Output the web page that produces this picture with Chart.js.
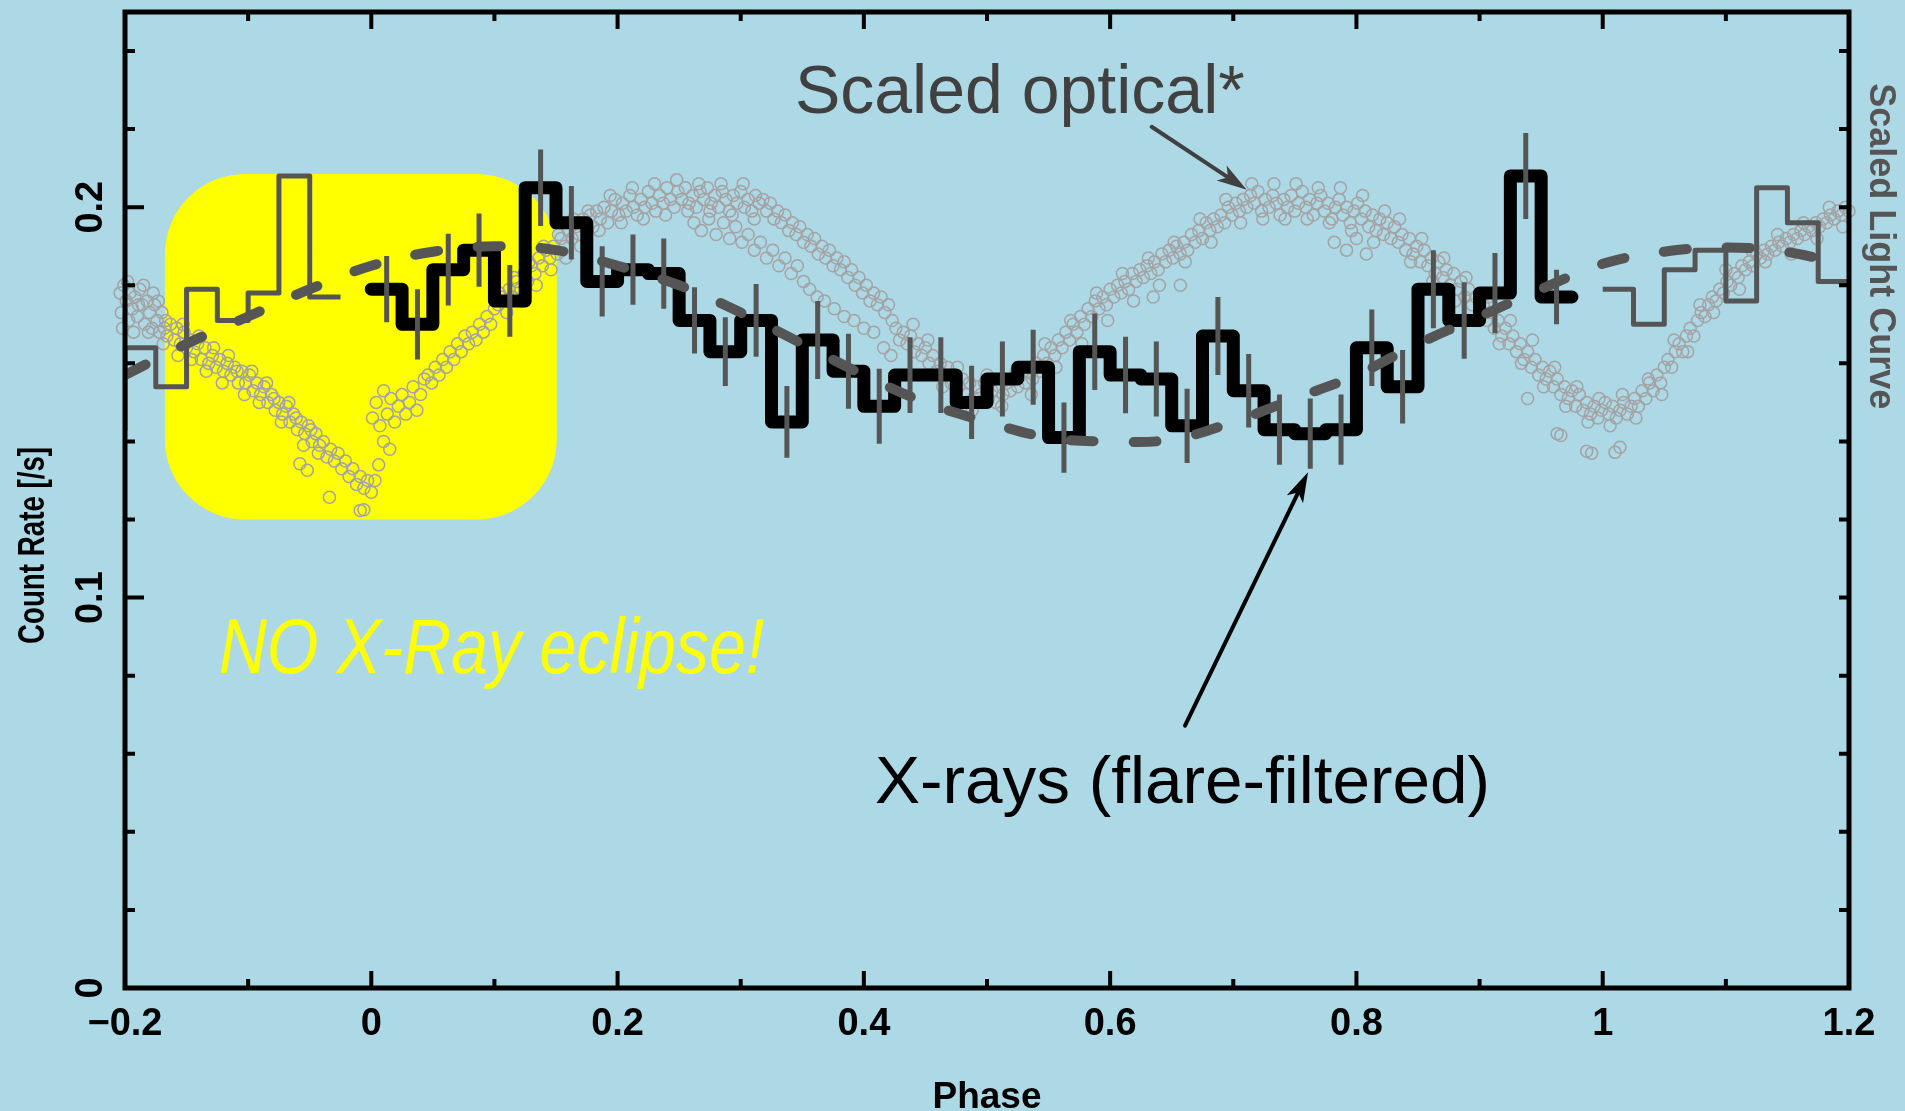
<!DOCTYPE html>
<html>
<head>
<meta charset="utf-8">
<title>Phase-folded X-ray and optical light curve</title>
<script src="https://cdn.jsdelivr.net/npm/chart.js@4.4.1/dist/chart.umd.min.js"></script>
<style>
  html, body { margin: 0; padding: 0; background: #add8e6; }
  #wrap { width: 1905px; height: 1111px; }
</style>
</head>
<body>
<div id="wrap"><canvas id="lc" width="1905" height="1111"></canvas></div>
<script>
// ---- X-ray count rate, flare-filtered, in 0.025 phase bins ----
const binWidth = 0.025;
const xrayBinStart = [0, 0.025, 0.05, 0.075, 0.1, 0.125, 0.15, 0.175, 0.2, 0.225,
  0.25, 0.275, 0.3, 0.325, 0.35, 0.375, 0.4, 0.425, 0.45, 0.475,
  0.5, 0.525, 0.55, 0.575, 0.6, 0.625, 0.65, 0.675, 0.7, 0.725,
  0.75, 0.775, 0.8, 0.825, 0.85, 0.875, 0.9, 0.925, 0.95];
const xrayRate = [0.179, 0.170, 0.184, 0.189, 0.176, 0.205, 0.196, 0.181, 0.184, 0.183,
  0.171, 0.163, 0.171, 0.145, 0.166, 0.158, 0.149, 0.157, 0.157, 0.150,
  0.156, 0.159, 0.141, 0.163, 0.157, 0.156, 0.144, 0.167, 0.153, 0.143,
  0.142, 0.143, 0.164, 0.154, 0.179, 0.171, 0.178, 0.208, 0.177];
const xrayErr = [0.0085, 0.009, 0.0092, 0.0094, 0.0092, 0.0098, 0.0094, 0.009, 0.009, 0.009,
  0.0085, 0.0088, 0.0093, 0.0092, 0.010, 0.0096, 0.0096, 0.0097, 0.0097, 0.0094,
  0.0096, 0.0096, 0.009, 0.0098, 0.0098, 0.0096, 0.0095, 0.010, 0.0094, 0.009,
  0.009, 0.009, 0.0098, 0.0094, 0.010, 0.0098, 0.0103, 0.011, 0.007];

// ---- smooth modulation curve (dashed) ----
const modelPhase = [-0.2, -0.15, -0.1, -0.05, 0, 0.05, 0.1, 0.15, 0.2, 0.25,
  0.3, 0.35, 0.4, 0.45, 0.5, 0.55, 0.6, 0.65, 0.7, 0.75,
  0.8, 0.85, 0.9, 0.95, 1.0, 1.05, 1.1, 1.15, 1.2];
const modelRate = [0.157, 0.165, 0.172, 0.179, 0.185, 0.1886, 0.190, 0.189, 0.185, 0.180,
  0.173, 0.165, 0.157, 0.150, 0.145, 0.141, 0.140, 0.1405, 0.145, 0.151,
  0.157, 0.165, 0.172, 0.179, 0.1855, 0.1886, 0.1897, 0.1885, 0.185];

// ---- scaled optical light curve ----
const optPhase = [
  -0.204,-0.203,-0.201,-0.199,-0.197,-0.196,-0.194,-0.192,-0.190,-0.188,-0.186,-0.184,-0.182,-0.180,-0.178,-0.176,-0.174,-0.172,-0.170,-0.168,-0.166,
  -0.163,-0.160,-0.158,-0.155,-0.152,-0.150,-0.147,-0.144,-0.141,-0.138,-0.135,-0.132,-0.129,-0.126,-0.123,-0.120,-0.117,-0.114,-0.111,-0.108,-0.105,-0.102,
  -0.099,-0.096,-0.093,-0.090,-0.087,-0.084,-0.081,-0.078,-0.075,-0.072,-0.069,-0.066,-0.063,-0.060,-0.057,-0.054,-0.051,-0.048,-0.045,-0.042,-0.058,-0.052,
  -0.039,-0.036,-0.033,-0.030,-0.027,-0.024,-0.021,-0.018,-0.015,-0.012,-0.009,-0.006,-0.003,0.000,0.003,-0.034,-0.009,-0.006,
  0.006,0.010,0.015,0.001,0.004,0.007,0.010,0.013,0.016,0.019,0.022,0.025,0.028,0.031,0.034,0.037,0.040,0.043,
  0.046,0.049,0.052,0.055,0.058,0.061,0.064,0.067,0.070,0.073,0.076,0.079,0.082,0.085,0.088,0.091,0.094,0.097,0.100,
  0.103,0.106,0.109,0.112,0.115,0.118,0.121,0.124,0.127,0.130,0.133,0.136,0.139,0.142,0.145,0.148,0.151,0.154,0.157,0.160,0.163,0.166,0.169,0.172,0.175,0.178,
  0.180,0.183,0.186,0.189,0.192,0.195,0.198,0.201,0.204,0.207,0.210,0.213,0.216,0.219,0.222,0.225,0.228,0.231,0.234,0.237,0.240,0.243,0.246,0.249,0.252,0.255,0.258,0.261,0.264,0.267,0.270,0.273,0.276,0.279,0.282,0.285,0.288,0.291,0.294,0.297,0.300,0.303,0.306,0.309,0.312,0.315,
  0.262,0.268,0.274,0.280,0.286,0.291,0.296,0.301,0.306,0.311,0.316,0.321,0.326,0.331,0.336,0.341,0.346,0.351,0.356,0.362,0.368,0.376,0.384,0.392,0.400,0.408,0.416,0.422,
  0.318,0.321,0.324,0.327,0.330,0.333,0.336,0.339,0.342,0.345,0.348,0.351,0.354,0.357,0.360,0.363,0.366,0.369,0.372,0.375,0.378,0.381,0.384,0.387,0.390,0.393,0.396,0.399,0.402,0.405,0.408,0.411,0.414,0.417,0.420,0.423,
  0.426,0.429,0.432,0.435,0.438,0.441,0.444,0.447,0.450,0.453,0.456,0.459,0.462,0.465,0.468,0.471,0.474,0.477,0.480,0.483,0.486,0.489,0.492,0.495,0.498,0.501,0.504,0.507,0.510,0.513,0.516,0.519,0.522,0.525,0.528,0.531,0.534,0.537,
  0.540,0.543,0.546,0.549,0.552,0.555,0.558,0.561,0.564,0.567,0.570,0.573,0.576,0.579,0.582,0.585,0.588,0.591,0.594,0.597,0.600,0.603,0.606,0.609,0.612,0.615,0.618,0.621,0.624,0.627,0.630,0.633,0.636,0.639,0.642,0.645,0.648,0.635,0.657,
  0.651,0.654,0.657,0.660,0.663,0.666,0.669,0.672,0.675,0.678,0.681,0.684,0.687,0.690,0.693,0.696,0.699,
  0.702,0.705,0.708,0.711,0.714,0.717,0.720,0.723,0.726,0.729,0.732,0.735,0.738,0.741,0.744,0.747,0.750,0.753,0.756,0.759,0.762,0.765,0.768,0.771,0.774,0.777,0.780,0.783,0.786,0.789,0.792,0.795,0.798,0.801,0.804,0.807,0.810,0.813,0.816,0.819,0.822,0.825,0.828,0.782,0.792,0.800,0.808,
  0.831,0.834,0.837,0.840,0.843,0.846,0.849,0.852,0.855,0.858,0.861,0.864,0.867,0.870,0.873,0.876,0.879,0.882,0.885,0.888,0.891,0.894,0.897,0.900,0.903,0.906,0.909,0.912,0.915,0.918,0.921,0.924,0.927,0.930,0.933,0.936,0.939,0.942,0.945,0.948,0.951,0.954,0.957,0.960,0.963,0.966,0.969,0.972,0.975,0.978,0.981,0.984,0.987,0.990,0.993,0.996,0.999,0.939,0.963,0.966,0.987,0.991,
  1.002,1.005,1.008,1.011,1.014,1.017,1.020,1.023,1.026,1.029,1.032,1.035,1.038,1.041,1.044,1.047,1.050,1.053,1.056,1.059,1.062,1.065,1.068,1.071,1.074,1.077,1.080,1.083,1.086,1.089,1.092,1.095,1.098,1.101,1.104,1.107,1.110,1.113,1.116,1.119,1.122,1.125,1.128,1.131,1.134,1.137,1.140,1.143,1.146,1.149,1.152,1.155,1.158,1.161,1.164,1.167,1.170,1.173,1.176,1.179,1.182,1.185,1.188,1.191,1.194,1.197,1.200,1.010,1.014,
  // band edges
  -0.202,-0.198,-0.193,-0.189,-0.185,-0.181,-0.177,-0.173,-0.169,-0.167,
  -0.157,-0.153,-0.146,-0.140,-0.134,-0.128,-0.121,-0.116,-0.109,-0.103,
  -0.097,-0.091,-0.085,-0.079,-0.073,-0.067,-0.061,-0.055,-0.049,-0.043,
  0.104,0.110,0.116,0.122,0.128,0.134,0.140,0.146,0.152,0.158,0.164,0.170,0.176,
  0.185,0.194,0.203,0.212,0.221,0.230,0.239,0.248,0.257,0.266,0.275,0.284,0.293,0.302,0.311,
  0.440,0.452,0.464,0.476,0.488,0.500,0.512,0.524,0.536,
  0.547,0.556,0.568,0.577,0.589,0.598,0.610,0.619,0.631,0.640,0.652,0.661,0.673,0.682,0.694,
  0.706,0.715,0.724,0.733,0.742,0.751,0.760,0.769,0.778,0.787,0.796,0.805,0.814,0.823,
  0.835,0.844,0.853,0.862,0.871,0.880,0.889,0.898,0.907,0.916,0.925,0.934,0.943,0.952,0.961,0.970,0.979,0.988,0.997,
  1.006,1.016,1.027,1.037,1.048,1.058,1.069,1.079,1.090,1.100,1.111,1.121,1.132,1.142,1.153,1.163,1.174,1.184,1.195
];
const optRate = [
  0.178,0.173,0.180,0.176,0.171,0.178,0.174,0.177,0.172,0.179,0.175,0.170,0.176,0.173,0.169,0.175,0.171,0.168,0.173,0.169,0.167,
  0.170,0.166,0.169,0.165,0.168,0.164,0.166,0.163,0.165,0.161,0.164,0.160,0.162,0.159,0.161,0.158,0.160,0.157,0.159,0.155,0.158,0.155,
  0.157,0.153,0.155,0.152,0.154,0.150,0.152,0.148,0.150,0.147,0.149,0.145,0.147,0.143,0.145,0.142,0.144,0.140,0.142,0.139,0.1343,0.1326,
  0.140,0.136,0.138,0.135,0.137,0.133,0.135,0.131,0.133,0.129,0.131,0.128,0.130,0.127,0.130,0.1257,0.1223,0.1225,
  0.134,0.140,0.138,0.146,0.150,0.144,0.153,0.147,0.151,0.145,0.149,0.152,0.147,0.150,0.154,0.148,0.152,0.156,
  0.157,0.155,0.159,0.157,0.161,0.159,0.163,0.161,0.165,0.163,0.167,0.165,0.168,0.166,0.170,0.168,0.172,0.170,0.174,
  0.175,0.177,0.176,0.179,0.177,0.181,0.179,0.183,0.181,0.185,0.183,0.187,0.185,0.189,0.187,0.190,0.188,0.192,0.190,0.194,0.192,0.195,0.193,0.197,0.195,0.198,
  0.195,0.199,0.197,0.200,0.196,0.199,0.202,0.198,0.201,0.199,0.203,0.200,0.198,0.202,0.200,0.204,0.201,0.199,0.203,0.201,0.205,0.202,0.200,0.204,0.202,0.205,0.201,0.203,0.200,0.204,0.202,0.205,0.201,0.203,0.200,0.204,0.202,0.199,0.203,0.201,0.204,0.200,0.202,0.199,0.203,0.201,
  0.196,0.194,0.197,0.193,0.196,0.192,0.195,0.191,0.193,0.189,0.191,0.187,0.189,0.185,0.187,0.183,0.185,0.181,0.179,0.177,0.176,0.174,0.172,0.171,0.169,0.168,0.164,0.162,
  0.202,0.199,0.201,0.197,0.199,0.196,0.198,0.194,0.196,0.193,0.195,0.191,0.193,0.190,0.192,0.188,0.190,0.187,0.189,0.185,0.187,0.184,0.186,0.182,0.184,0.180,0.182,0.178,0.180,0.176,0.178,0.175,0.177,0.173,0.175,0.171,
  0.169,0.166,0.168,0.165,0.167,0.163,0.165,0.162,0.164,0.160,0.162,0.158,0.160,0.157,0.159,0.155,0.157,0.154,0.156,0.152,0.155,0.151,0.154,0.152,0.155,0.151,0.153,0.150,0.154,0.152,0.155,0.153,0.156,0.154,0.157,0.155,0.158,0.156,
  0.160,0.158,0.162,0.160,0.164,0.162,0.166,0.164,0.168,0.166,0.170,0.168,0.172,0.170,0.174,0.172,0.176,0.174,0.177,0.175,0.179,0.177,0.180,0.178,0.181,0.179,0.183,0.181,0.184,0.182,0.185,0.183,0.186,0.184,0.188,0.186,0.189,0.177,0.180,
  0.187,0.190,0.188,0.191,0.189,0.193,0.191,0.194,0.192,0.196,0.194,0.197,0.195,0.198,0.196,0.200,0.198,
  0.201,0.199,0.202,0.200,0.203,0.201,0.204,0.199,0.202,0.200,0.203,0.201,0.198,0.202,0.200,0.203,0.199,0.201,0.204,0.200,0.202,0.198,0.201,0.203,0.199,0.201,0.197,0.200,0.202,0.198,0.200,0.196,0.199,0.201,0.197,0.199,0.195,0.198,0.194,0.197,0.193,0.196,0.192,0.191,0.189,0.192,0.188,
  0.195,0.191,0.193,0.189,0.192,0.188,0.190,0.186,0.189,0.185,0.187,0.183,0.186,0.182,0.184,0.180,0.183,0.179,0.181,0.177,0.179,0.175,0.177,0.173,0.175,0.171,0.173,0.169,0.171,0.167,0.169,0.165,0.167,0.163,0.165,0.161,0.163,0.159,0.161,0.157,0.159,0.156,0.158,0.154,0.156,0.152,0.154,0.151,0.153,0.149,0.152,0.148,0.150,0.147,0.149,0.146,0.148,0.151,0.142,0.1415,0.1375,0.137,
  0.150,0.147,0.149,0.146,0.148,0.150,0.147,0.149,0.151,0.149,0.153,0.151,0.155,0.153,0.157,0.155,0.159,0.161,0.159,0.163,0.165,0.163,0.167,0.169,0.167,0.171,0.173,0.172,0.175,0.177,0.176,0.179,0.178,0.181,0.180,0.183,0.182,0.185,0.184,0.186,0.185,0.188,0.187,0.189,0.188,0.190,0.189,0.191,0.190,0.192,0.191,0.193,0.192,0.194,0.193,0.195,0.194,0.196,0.195,0.197,0.196,0.198,0.197,0.199,0.198,0.200,0.199,0.1372,0.1385,
  // band edges
  0.169,0.181,0.168,0.175,0.180,0.168,0.178,0.176,0.165,0.171,
  0.162,0.170,0.161,0.167,0.158,0.164,0.155,0.162,0.158,0.152,
  0.158,0.150,0.155,0.151,0.145,0.150,0.146,0.139,0.143,0.137,
  0.178,0.173,0.182,0.176,0.186,0.180,0.190,0.184,0.193,0.187,0.197,0.190,0.199,
  0.194,0.203,0.196,0.205,0.197,0.206,0.198,0.207,0.199,0.206,0.199,0.206,0.198,0.206,0.197,
  0.170,0.166,0.154,0.159,0.148,0.157,0.149,0.158,0.152,
  0.165,0.159,0.171,0.165,0.178,0.171,0.183,0.176,0.187,0.180,0.191,0.186,0.197,0.191,0.202,
  0.196,0.206,0.197,0.206,0.197,0.206,0.197,0.205,0.196,0.205,0.194,0.203,0.191,0.199,
  0.197,0.186,0.192,0.181,0.187,0.176,0.182,0.171,0.177,0.165,0.171,0.160,0.166,0.154,0.159,0.149,0.154,0.145,0.151,
  0.144,0.152,0.146,0.156,0.152,0.166,0.163,0.175,0.173,0.184,0.179,0.189,0.186,0.193,0.188,0.196,0.192,0.200,0.195
];

// ---- axes ----
const xMajor = [-0.2, 0, 0.2, 0.4, 0.6, 0.8, 1, 1.2];
const xTickLabels = ['\u22120.2', '0', '0.2', '0.4', '0.6', '0.8', '1', '1.2'];
const xMinor = [-0.1, 0.1, 0.3, 0.5, 0.7, 0.9, 1.1];
const yMajor = [0, 0.1, 0.2];
const yTickLabels = ['0', '0.1', '0.2'];
const yMinor = [0.02, 0.04, 0.06, 0.08, 0.12, 0.14, 0.16, 0.18, 0.22, 0.24];

// highlighted phase/rate window around the optical eclipse
const boxPhase = [-0.1676, 0.1506];
const boxRate = [0.1200, 0.2085];

// y-axis title runs along this rate span
const yTitleSpan = [0.0881, 0.1386];

const FONT = '"Liberation Sans", Arial, Helvetica, sans-serif';

const notes = [
  { text: 'Scaled optical*', at: [0.344, 0.2241], font: '68px ' + FONT, color: '#404040' },
  { text: 'X-rays (flare-filtered)', at: [0.409, 0.0474], font: '67.5px ' + FONT, color: '#000000' },
  { text: 'NO X-Ray eclipse!', at: [-0.1237, 0.0808], font: 'italic 78px ' + FONT, color: '#ffff00', squeeze: 0.85 }
];
const arrows = [
  { from: [0.6337, 0.2206], to: [0.7109, 0.2045], color: '#404040' },
  { from: [0.6608, 0.0672], to: [0.7607, 0.1321], color: '#000000' }
];

// step outline: one point per bin start plus the closing edge
function stepPoints(starts, rates, shift) {
  const pts = starts.map((p, i) => ({ x: p + shift, y: rates[i] }));
  pts.push({ x: starts[starts.length - 1] + binWidth + shift, y: rates[rates.length - 1] });
  return pts;
}

const xrayLine = stepPoints(xrayBinStart, xrayRate, 0);
// same bins folded one cycle back / forward
const foldedLine = [
  ...stepPoints(xrayBinStart.slice(31), xrayRate.slice(31), -1),
  { x: 0.5, y: null },
  ...stepPoints(xrayBinStart.slice(0, 8), xrayRate.slice(0, 8), 1)
];

const errorBars = [];
xrayBinStart.forEach((p, i) => {
  const c = p + binWidth / 2;
  errorBars.push({ x: c, y: xrayRate[i] - xrayErr[i] }, { x: c, y: xrayRate[i] + xrayErr[i] }, { x: c, y: null });
});

const modelLine = modelPhase.map((p, i) => ({ x: p, y: modelRate[i] }));
const opticalPts = optPhase.map((p, i) => ({ x: p, y: optRate[i] }));

function roundBox(ctx, x0, y0, x1, y1, r) {
  ctx.beginPath();
  ctx.moveTo(x0 + r, y0);
  ctx.arcTo(x1, y0, x1, y1, r);
  ctx.arcTo(x1, y1, x0, y1, r);
  ctx.arcTo(x0, y1, x0, y0, r);
  ctx.arcTo(x0, y0, x1, y0, r);
  ctx.closePath();
}

function drawArrow(ctx, x0, y0, x1, y1, color) {
  const a = Math.atan2(y1 - y0, x1 - x0);
  const c = Math.cos(a), s = Math.sin(a);
  const len = 30, half = 9;
  ctx.save();
  ctx.strokeStyle = color;
  ctx.fillStyle = color;
  ctx.lineWidth = 4;
  ctx.lineCap = 'round';
  ctx.beginPath();
  ctx.moveTo(x0, y0);
  ctx.lineTo(x1 - c * len * 0.7, y1 - s * len * 0.7);
  ctx.stroke();
  ctx.beginPath();
  ctx.moveTo(x1, y1);
  ctx.lineTo(x1 - c * len + s * half, y1 - s * len - c * half);
  ctx.lineTo(x1 - c * len * 0.75, y1 - s * len * 0.75);
  ctx.lineTo(x1 - c * len - s * half, y1 - s * len + c * half);
  ctx.closePath();
  ctx.fill();
  ctx.restore();
}

const pgAxes = {
  id: 'pgAxes',
  beforeDraw(chart) {
    const ctx = chart.ctx;
    ctx.save();
    ctx.fillStyle = '#add8e6';
    ctx.fillRect(0, 0, chart.width, chart.height);
    ctx.restore();
  },
  beforeDatasetsDraw(chart) {
    const { ctx, scales: { x, y } } = chart;
    ctx.save();
    ctx.fillStyle = '#ffff00';
    roundBox(ctx, x.getPixelForValue(boxPhase[0]), y.getPixelForValue(boxRate[1]),
      x.getPixelForValue(boxPhase[1]), y.getPixelForValue(boxRate[0]), 80);
    ctx.fill();
    ctx.restore();
  },
  afterDraw(chart) {
    const { ctx, chartArea: a, scales: { x, y } } = chart;
    ctx.save();

    // frame
    ctx.strokeStyle = '#000';
    ctx.lineWidth = 5;
    ctx.strokeRect(a.left, a.top, a.right - a.left, a.bottom - a.top);

    // inward ticks
    ctx.lineWidth = 4;
    ctx.beginPath();
    const vtick = (v, len) => {
      const px = x.getPixelForValue(v);
      ctx.moveTo(px, a.bottom); ctx.lineTo(px, a.bottom - len);
      ctx.moveTo(px, a.top); ctx.lineTo(px, a.top + len);
    };
    const htick = (v, len) => {
      const py = y.getPixelForValue(v);
      ctx.moveTo(a.left, py); ctx.lineTo(a.left + len, py);
      ctx.moveTo(a.right, py); ctx.lineTo(a.right - 10, py);
    };
    xMajor.forEach(v => vtick(v, 17));
    xMinor.forEach(v => vtick(v, 9));
    yMajor.forEach(v => htick(v, 19));
    yMinor.forEach(v => htick(v, 10));
    ctx.stroke();

    // tick labels
    ctx.fillStyle = '#000';
    ctx.font = 'bold 38px ' + FONT;
    ctx.textAlign = 'center';
    ctx.textBaseline = 'alphabetic';
    xMajor.forEach((v, i) => ctx.fillText(xTickLabels[i], x.getPixelForValue(v), a.bottom + 47));
    yMajor.forEach((v, i) => {
      ctx.save();
      ctx.translate(a.left - 23, y.getPixelForValue(v));
      ctx.rotate(-Math.PI / 2);
      ctx.fillText(yTickLabels[i], 0, 0);
      ctx.restore();
    });

    // axis titles
    ctx.font = 'bold 37px ' + FONT;
    ctx.fillText('Phase', (a.left + a.right) / 2, a.bottom + 120);

    // narrow y title, fitted to its span along the axis
    ctx.save();
    ctx.font = 'bold 37px ' + FONT;
    const yt0 = y.getPixelForValue(yTitleSpan[0]);
    const yt1 = y.getPixelForValue(yTitleSpan[1]);
    const want = Math.abs(yt0 - yt1);
    const have = ctx.measureText('Count Rate [/s]').width;
    ctx.translate(44, (yt0 + yt1) / 2);
    ctx.rotate(-Math.PI / 2);
    ctx.scale(want / have, 1);
    ctx.fillText('Count Rate [/s]', 0, 0);
    ctx.restore();

    ctx.save();
    ctx.fillStyle = '#555555';
    ctx.font = 'bold 36px ' + FONT;
    ctx.translate(a.right + 21, y.getPixelForValue(0.19));
    ctx.rotate(Math.PI / 2);
    ctx.fillText('Scaled Light Curve', 0, 0);
    ctx.restore();

    // annotations
    ctx.textAlign = 'left';
    notes.forEach(n => {
      ctx.save();
      ctx.font = n.font;
      ctx.fillStyle = n.color;
      ctx.translate(x.getPixelForValue(n.at[0]), y.getPixelForValue(n.at[1]));
      if (n.squeeze) ctx.scale(n.squeeze, 1);
      ctx.fillText(n.text, 0, 0);
      ctx.restore();
    });
    arrows.forEach(r => drawArrow(ctx,
      x.getPixelForValue(r.from[0]), y.getPixelForValue(r.from[1]),
      x.getPixelForValue(r.to[0]), y.getPixelForValue(r.to[1]), r.color));

    ctx.restore();
  }
};

new Chart(document.getElementById('lc'), {
  type: 'line',
  data: {
    datasets: [
      {
        label: 'errors',
        data: errorBars,
        borderColor: '#555555',
        borderWidth: 5,
        borderCapStyle: 'butt',
        pointRadius: 0,
        order: 0
      },
      {
        label: 'model',
        data: modelLine,
        borderColor: '#555555',
        borderWidth: 10,
        borderDash: [23, 40],
        borderCapStyle: 'round',
        tension: 0.4,
        pointRadius: 0,
        order: 1
      },
      {
        label: 'X-rays',
        data: xrayLine,
        stepped: 'before',
        borderColor: '#000000',
        borderWidth: 13,
        borderJoinStyle: 'round',
        borderCapStyle: 'round',
        pointRadius: 0,
        order: 2
      },
      {
        label: 'X-rays folded',
        data: foldedLine,
        stepped: 'before',
        borderColor: '#555555',
        borderWidth: 5,
        borderJoinStyle: 'round',
        pointRadius: 0,
        order: 3
      },
      {
        label: 'optical',
        data: opticalPts,
        showLine: false,
        pointStyle: 'circle',
        pointRadius: 6,
        pointBorderWidth: 1.5,
        pointBorderColor: '#a3a3a3',
        pointBackgroundColor: 'rgba(0,0,0,0)',
        clip: false,
        order: 4
      }
    ]
  },
  options: {
    responsive: false,
    animation: false,
    events: [],
    layout: { padding: { left: 125, right: 56, top: 12, bottom: 123 } },
    scales: {
      x: { type: 'linear', min: -0.2, max: 1.2, display: false },
      y: { type: 'linear', min: 0, max: 0.25, display: false }
    },
    plugins: { legend: { display: false }, tooltip: { enabled: false } }
  },
  plugins: [pgAxes]
});
</script>
</body>
</html>
